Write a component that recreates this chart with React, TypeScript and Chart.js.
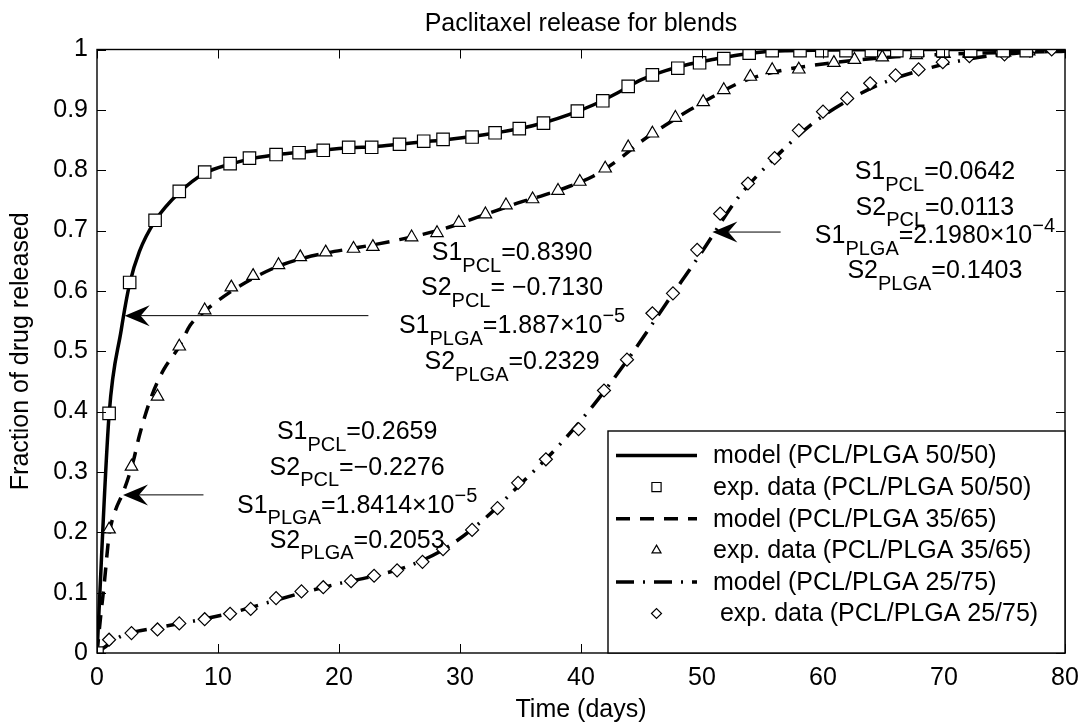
import React, { useEffect, useRef } from 'react';
import { Chart, registerables } from 'chart.js';

Chart.register(...registerables);

const FONT = "'Liberation Sans', Arial, Helvetica, sans-serif";

// ---------- texts ----------
const chartTitle = 'Paclitaxel release for blends';
const xAxisTitle = 'Time (days)';
const yAxisTitle = 'Fraction of drug released';
const xTickValues = [0, 10, 20, 30, 40, 50, 60, 70, 80];
const xTickLabels = ['0', '10', '20', '30', '40', '50', '60', '70', '80'];
const yTickValues = [0, 0.1, 0.2, 0.3, 0.4, 0.5, 0.6, 0.7, 0.8, 0.9, 1];
const yTickLabels = ['0', '0.1', '0.2', '0.3', '0.4', '0.5', '0.6', '0.7', '0.8', '0.9', '1'];
const legendLabels = [
  'model (PCL/PLGA 50/50)',
  'exp. data (PCL/PLGA 50/50)',
  'model (PCL/PLGA 35/65)',
  'exp. data (PCL/PLGA 35/65)',
  'model (PCL/PLGA 25/75)',
  ' exp. data (PCL/PLGA 25/75)',
];

// ---------- experimental data ----------
const exp50T = [0, 1, 2.7, 4.8, 6.8, 8.9, 11, 12.6, 14.8, 16.7, 18.7, 20.8, 22.7, 25, 27, 28.6, 31, 32.9, 34.9, 36.9, 39.7, 41.8, 43.9, 45.9, 48, 49.8, 51.8, 53.9, 55.8, 58.1, 59.9, 61.9, 64, 66.1, 67.8, 69.9, 72.2, 74.9, 76.8];
const exp50Y = [0, 0.397, 0.614, 0.717, 0.765, 0.797, 0.811, 0.82, 0.826, 0.829, 0.833, 0.838, 0.838, 0.843, 0.848, 0.851, 0.855, 0.862, 0.869, 0.878, 0.898, 0.915, 0.939, 0.958, 0.969, 0.978, 0.985, 0.994, 0.998, 0.998, 0.998, 0.998, 0.998, 0.998, 0.998, 0.998, 0.998, 0.998, 0.998];

const exp35T = [0, 1, 2.85, 5, 6.8, 8.9, 11.1, 12.9, 15, 16.8, 18.9, 21.2, 22.8, 26, 28.1, 29.9, 32.1, 33.8, 36, 38.1, 39.9, 42, 43.9, 45.9, 47.8, 50.1, 51.8, 54, 55.8, 58, 60.9, 62.6, 64.9, 67.7, 70, 72.1, 75, 77];
const exp35Y = [0, 0.205, 0.309, 0.425, 0.508, 0.568, 0.606, 0.625, 0.643, 0.656, 0.664, 0.67, 0.673, 0.689, 0.696, 0.713, 0.727, 0.742, 0.752, 0.766, 0.781, 0.803, 0.838, 0.861, 0.887, 0.913, 0.933, 0.955, 0.966, 0.967, 0.978, 0.983, 0.987, 0.991, 0.993, 0.993, 0.995, 0.997];

const exp25T = [0, 1, 2.85, 5, 6.8, 8.9, 11, 12.7, 14.8, 16.9, 18.7, 21, 22.9, 24.8, 26.9, 28.6, 31, 33.1, 34.8, 37.1, 39.8, 41.9, 43.8, 45.9, 47.6, 49.6, 51.5, 53.8, 56, 58, 60, 62, 63.9, 66, 67.9, 69.9, 72.1, 75, 77.1, 78.9];
const exp25Y = [0, 0.022, 0.033, 0.039, 0.049, 0.056, 0.065, 0.073, 0.091, 0.102, 0.109, 0.119, 0.128, 0.137, 0.151, 0.172, 0.204, 0.24, 0.282, 0.321, 0.371, 0.435, 0.486, 0.563, 0.596, 0.668, 0.728, 0.778, 0.82, 0.866, 0.897, 0.919, 0.944, 0.957, 0.967, 0.979, 0.989, 0.992, 0.998, 1.0];

// ---------- model curves ----------
const model50T = [0, 1, 2, 2.7, 3.5, 4.8, 6.8, 8.9, 11, 13, 15, 17, 19, 21, 23, 25, 27, 29, 31, 33, 35, 37, 39, 41, 43, 45, 47, 49, 51, 53, 55, 57, 60, 65, 70, 80];
const model50Y = [0, 0.395, 0.535, 0.612, 0.665, 0.716, 0.763, 0.795, 0.81, 0.82, 0.826, 0.83, 0.834, 0.837, 0.839, 0.843, 0.847, 0.851, 0.856, 0.862, 0.869, 0.879, 0.892, 0.908, 0.928, 0.95, 0.965, 0.976, 0.984, 0.991, 0.996, 0.998, 0.999, 1, 1, 1];

const model35T = [0, 0.3, 0.6, 1, 1.5, 2.2, 3, 3.5, 4.5, 5.5, 6.8, 7.7, 9, 11, 13, 15, 17, 19, 21, 23, 25, 27, 29, 31, 33, 35, 37, 39, 41, 43, 45, 47, 49, 51, 53, 55, 57, 60, 63, 66, 70, 75, 80];
const model35Y = [0, 0.06, 0.115, 0.195, 0.235, 0.268, 0.318, 0.36, 0.425, 0.469, 0.508, 0.543, 0.568, 0.598, 0.622, 0.641, 0.654, 0.663, 0.67, 0.677, 0.685, 0.694, 0.705, 0.719, 0.733, 0.747, 0.759, 0.773, 0.79, 0.816, 0.848, 0.875, 0.9, 0.923, 0.944, 0.958, 0.967, 0.976, 0.983, 0.988, 0.992, 0.995, 0.997];

const model25T = [0, 1, 2, 5, 8, 11, 14, 17, 20, 23, 26, 29, 32, 35, 38, 41, 44, 47, 50, 53, 56, 59, 62, 65, 68, 71, 74, 77, 80];
const model25Y = [0, 0.015, 0.028, 0.042, 0.053, 0.066, 0.083, 0.1, 0.115, 0.128, 0.146, 0.176, 0.222, 0.28, 0.34, 0.41, 0.49, 0.578, 0.665, 0.755, 0.82, 0.875, 0.915, 0.945, 0.965, 0.98, 0.99, 0.995, 0.998];

// ---------- annotations (data coordinates) ----------
type Seg = { t: string; k?: 'sub' | 'sup' };
const block1Lines: Seg[][] = [
  [{ t: 'S1' }, { t: 'PCL', k: 'sub' }, { t: '=0.8390' }],
  [{ t: 'S2' }, { t: 'PCL', k: 'sub' }, { t: '= \u22120.7130' }],
  [{ t: 'S1' }, { t: 'PLGA', k: 'sub' }, { t: '=1.887\u00d710' }, { t: '\u22125', k: 'sup' }],
  [{ t: 'S2' }, { t: 'PLGA', k: 'sub' }, { t: '=0.2329' }],
];
const block1X = 34.3;
const block1Y = [0.651, 0.593, 0.53, 0.47];

const block2Lines: Seg[][] = [
  [{ t: 'S1' }, { t: 'PCL', k: 'sub' }, { t: '=0.2659' }],
  [{ t: 'S2' }, { t: 'PCL', k: 'sub' }, { t: '=\u22120.2276' }],
  [{ t: 'S1' }, { t: 'PLGA', k: 'sub' }, { t: '=1.8414\u00d710' }, { t: '\u22125', k: 'sup' }],
  [{ t: 'S2' }, { t: 'PLGA', k: 'sub' }, { t: '=0.2053' }],
];
const block2X = 21.5;
const block2Y = [0.354, 0.295, 0.232, 0.174];

const block3Lines: Seg[][] = [
  [{ t: 'S1' }, { t: 'PCL', k: 'sub' }, { t: '=0.0642' }],
  [{ t: 'S2' }, { t: 'PCL', k: 'sub' }, { t: '=0.0113' }],
  [{ t: 'S1' }, { t: 'PLGA', k: 'sub' }, { t: '=2.1980\u00d710' }, { t: '\u22124', k: 'sup' }],
  [{ t: 'S2' }, { t: 'PLGA', k: 'sub' }, { t: '=0.1403' }],
];
const block3X = 69.25;
const block3Y = [0.785, 0.726, 0.679, 0.621];

const arrowFromX = [22.43, 8.8, 56.5];
const arrowToX = [2.29, 2.15, 50.86];
const arrowY = [0.559, 0.262, 0.6975];

// ---------- styles ----------
const MAIN_SIZE = 25;
const SUB_SIZE = 20;
const TICK_LEN = 9;
const DASHED = [14, 10];
const DASHDOT = [18, 9, 2, 9];
const LINE_W = 3.5;

const toXY = (xs: number[], ys: number[]) => xs.map((x, i) => ({ x, y: ys[i] }));

function segFont(k?: string) {
  return `${k ? SUB_SIZE : MAIN_SIZE}px ${FONT}`;
}

function drawRichLine(ctx: CanvasRenderingContext2D, segs: Seg[], cx: number, baseY: number) {
  let total = 0;
  const widths = segs.map((s) => {
    ctx.font = segFont(s.k);
    const w = ctx.measureText(s.t).width;
    total += w;
    return w;
  });
  let x = cx - total / 2;
  segs.forEach((s, i) => {
    ctx.font = segFont(s.k);
    const dy = s.k === 'sub' ? 11.5 : s.k === 'sup' ? -11 : 0;
    ctx.fillText(s.t, x, baseY + dy);
    x += widths[i];
  });
}

function drawArrow(ctx: CanvasRenderingContext2D, x1: number, y1: number, x2: number, y2: number) {
  const ang = Math.atan2(y2 - y1, x2 - x1);
  const L = 25, W = 10.5, N = 16;
  ctx.beginPath();
  ctx.lineWidth = 1;
  ctx.moveTo(x1, y1);
  ctx.lineTo(x2 - Math.cos(ang) * N, y2 - Math.sin(ang) * N);
  ctx.stroke();
  ctx.save();
  ctx.translate(x2, y2);
  ctx.rotate(ang);
  ctx.beginPath();
  ctx.moveTo(0, 0);
  ctx.lineTo(-L, -W);
  ctx.lineTo(-N, 0);
  ctx.lineTo(-L, W);
  ctx.closePath();
  ctx.fill();
  ctx.restore();
}

const LEG_W = 457;
const LEG_H = 222;
const LEG_ROW0 = 24.5;
const LEG_ROWGAP = 31.6;
const LEG_LINE_X0 = 8;
const LEG_LINE_X1 = 89;
const LEG_TEXT_X = 105;

const decorPlugin = {
  id: 'decor',
  afterDraw(chart: any) {
    const { ctx, chartArea: a, scales } = chart;
    const xs = scales.x;
    const ys = scales.y;
    ctx.save();
    ctx.strokeStyle = '#000';
    ctx.fillStyle = '#000';

    // ticks (inward, all four sides)
    ctx.lineWidth = 1;
    ctx.beginPath();
    xTickValues.forEach((v) => {
      const px = Math.round(xs.getPixelForValue(v)) + 0.5;
      ctx.moveTo(px, a.bottom);
      ctx.lineTo(px, a.bottom - TICK_LEN);
      ctx.moveTo(px, a.top);
      ctx.lineTo(px, a.top + TICK_LEN);
    });
    yTickValues.forEach((v) => {
      const py = Math.round(ys.getPixelForValue(v)) + 0.5;
      ctx.moveTo(a.left, py);
      ctx.lineTo(a.left + TICK_LEN, py);
      ctx.moveTo(a.right, py);
      ctx.lineTo(a.right - TICK_LEN, py);
    });
    ctx.stroke();

    // frame
    ctx.lineWidth = 1.4;
    ctx.strokeRect(a.left, a.top, a.right - a.left, a.bottom - a.top);

    // arrows
    arrowFromX.forEach((fx, i) => {
      const y = ys.getPixelForValue(arrowY[i]);
      drawArrow(ctx, xs.getPixelForValue(fx), y, xs.getPixelForValue(arrowToX[i]), y);
    });

    // annotation text blocks
    ctx.textBaseline = 'alphabetic';
    ctx.textAlign = 'left';
    const blocks: [Seg[][], number, number[]][] = [
      [block1Lines, block1X, block1Y],
      [block2Lines, block2X, block2Y],
      [block3Lines, block3X, block3Y],
    ];
    blocks.forEach(([lines, bx, by]) => {
      const cx = xs.getPixelForValue(bx);
      lines.forEach((segs, i) => drawRichLine(ctx, segs, cx, ys.getPixelForValue(by[i])));
    });

    // legend
    const lx = a.right - LEG_W;
    const ly = a.bottom - LEG_H;
    ctx.fillStyle = '#fff';
    ctx.fillRect(lx, ly, LEG_W, LEG_H);
    ctx.lineWidth = 1.4;
    ctx.strokeRect(lx, ly, LEG_W, LEG_H);
    ctx.fillStyle = '#000';
    const dashes = [[], DASHED, DASHDOT];
    const markers = ['rect', 'triangle', 'rectRot'];
    const mRad = [6.5, 5.2, 5];
    legendLabels.forEach((label, i) => {
      const cy = ly + LEG_ROW0 + i * LEG_ROWGAP;
      const g = Math.floor(i / 2);
      if (i % 2 === 0) {
        ctx.save();
        ctx.lineWidth = LINE_W;
        ctx.setLineDash(dashes[g]);
        ctx.lineCap = 'butt';
        ctx.beginPath();
        ctx.moveTo(lx + LEG_LINE_X0, cy);
        ctx.lineTo(lx + LEG_LINE_X1, cy);
        ctx.stroke();
        ctx.restore();
      } else {
        ctx.save();
        ctx.lineWidth = 1.2;
        ctx.fillStyle = '#fff';
        ctx.strokeStyle = '#000';
        const mx = lx + (LEG_LINE_X0 + LEG_LINE_X1) / 2;
        const r = mRad[g];
        ctx.beginPath();
        if (markers[g] === 'rect') {
          const s = Math.SQRT1_2 * r;
          ctx.rect(mx - s, cy - s, 2 * s, 2 * s);
        } else if (markers[g] === 'triangle') {
          ctx.moveTo(mx, cy - r);
          ctx.lineTo(mx + r * Math.sin(2 * Math.PI / 3), cy - r * Math.cos(2 * Math.PI / 3));
          ctx.lineTo(mx + r * Math.sin(4 * Math.PI / 3), cy - r * Math.cos(4 * Math.PI / 3));
          ctx.closePath();
        } else {
          ctx.moveTo(mx - r, cy);
          ctx.lineTo(mx, cy - r);
          ctx.lineTo(mx + r, cy);
          ctx.lineTo(mx, cy + r);
          ctx.closePath();
        }
        ctx.fill();
        ctx.stroke();
        ctx.restore();
      }
      ctx.font = `${MAIN_SIZE}px ${FONT}`;
      ctx.textBaseline = 'middle';
      ctx.fillText(label, lx + LEG_TEXT_X, cy + 1);
    });
    ctx.restore();
  },
};

export default function App() {
  const ref = useRef<HTMLCanvasElement | null>(null);

  useEffect(() => {
    document.body.style.margin = '0';
    const canvas = ref.current;
    if (!canvas) return;
    const tickFont = { family: FONT, size: MAIN_SIZE };
    const lineBase = {
      type: 'line' as const,
      borderColor: '#000',
      borderWidth: LINE_W,
      pointRadius: 0,
      fill: false,
      cubicInterpolationMode: 'monotone' as const,
      order: 2,
    };
    const markBase = {
      type: 'scatter' as const,
      showLine: false,
      pointBackgroundColor: '#fff',
      pointBorderColor: '#000',
      pointBorderWidth: 1.2,
      order: 1,
    };
    const chart = new Chart(canvas, {
      data: {
        datasets: [
          { ...lineBase, label: legendLabels[0], data: toXY(model50T, model50Y) },
          { ...markBase, label: legendLabels[1], data: toXY(exp50T, exp50Y), pointStyle: 'rect', pointRadius: 8.8 },
          { ...lineBase, label: legendLabels[2], data: toXY(model35T, model35Y), borderDash: DASHED },
          { ...markBase, label: legendLabels[3], data: toXY(exp35T, exp35Y), pointStyle: 'triangle', pointRadius: 7.2 },
          { ...lineBase, label: legendLabels[4], data: toXY(model25T, model25Y), borderDash: DASHDOT },
          { ...markBase, label: legendLabels[5], data: toXY(exp25T, exp25Y), pointStyle: 'rectRot', pointRadius: 6.5 },
        ] as any,
      },
      options: {
        responsive: false,
        animation: false,
        devicePixelRatio: 1,
        layout: { padding: { left: 0, right: 17, top: 0, bottom: 0 } },
        plugins: {
          legend: { display: false },
          tooltip: { enabled: false },
          title: {
            display: true,
            fullSize: false,
            text: chartTitle,
            color: '#000',
            font: { family: FONT, size: MAIN_SIZE, weight: 'normal' },
            padding: { top: 9, bottom: 10.5 },
          },
        },
        scales: {
          x: {
            type: 'linear',
            min: 0,
            max: 80,
            afterBuildTicks: (s: any) => {
              s.ticks = xTickValues.map((v) => ({ value: v }));
            },
            afterFit: (s: any) => {
              s.height = 72;
              s.paddingLeft = 0;
              s.paddingRight = 0;
            },
            ticks: {
              color: '#000',
              font: tickFont,
              padding: 10,
              maxRotation: 0,
              autoSkip: false,
              callback: (_v: any, i: number) => xTickLabels[i],
            },
            grid: { display: false, drawTicks: false },
            border: { display: false },
            title: {
              display: true,
              text: xAxisTitle,
              color: '#000',
              font: tickFont,
              padding: { top: 0, bottom: 0 },
            },
          },
          y: {
            type: 'linear',
            min: 0,
            max: 1,
            afterBuildTicks: (s: any) => {
              s.ticks = yTickValues.map((v) => ({ value: v }));
            },
            afterFit: (s: any) => {
              s.width = 97;
              s.paddingTop = 0;
              s.paddingBottom = 0;
            },
            ticks: {
              color: '#000',
              font: tickFont,
              padding: 9,
              autoSkip: false,
              callback: (_v: any, i: number) => yTickLabels[i],
            },
            grid: { display: false, drawTicks: false },
            border: { display: false },
            title: {
              display: true,
              text: yAxisTitle,
              color: '#000',
              font: tickFont,
              padding: { top: 6, bottom: 0 },
            },
          },
        },
      },
      plugins: [decorPlugin],
    } as any);
    return () => chart.destroy();
  }, []);

  return (
    <div style={{ position: 'absolute', left: 0, top: 0, width: 1082, height: 725, background: '#fff' }}>
      <canvas ref={ref} width={1082} height={725} style={{ display: 'block', width: 1082, height: 725 }} />
    </div>
  );
}
